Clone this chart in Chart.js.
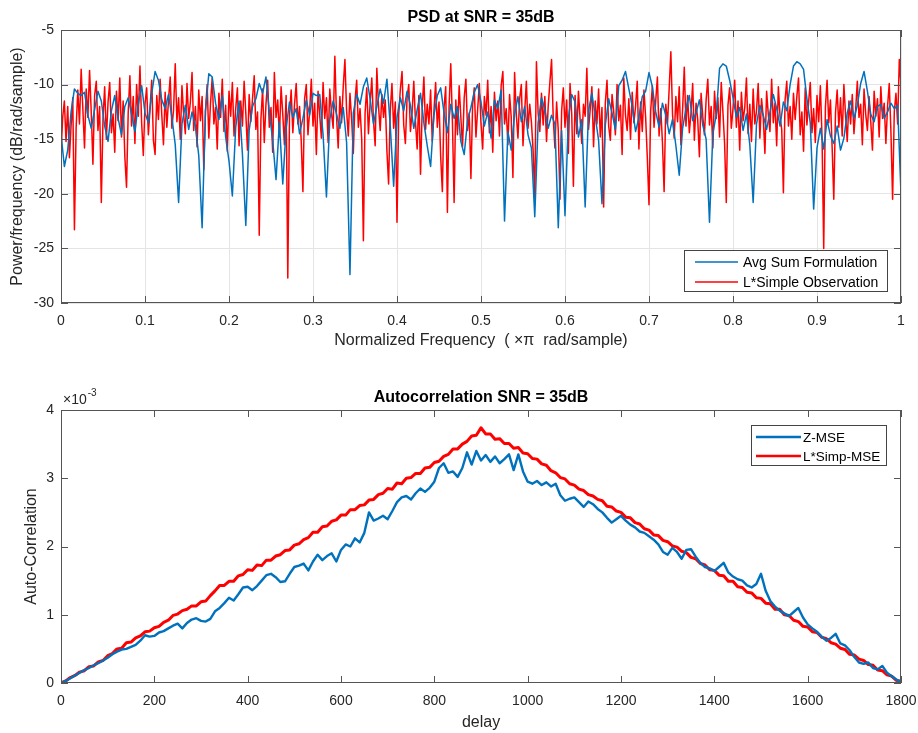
<!DOCTYPE html>
<html>
<head>
<meta charset="utf-8">
<script src="https://cdn.jsdelivr.net/npm/chart.js@4.4.1/dist/chart.umd.min.js"></script>
<style>
  body{margin:0;background:#fff;}
  #wrap{position:relative;width:918px;height:733px;}
  canvas{position:absolute;left:0;}
</style>
</head>
<body>
<div id="wrap">
  <canvas id="psdChart" width="918" height="366" style="top:0"></canvas>
  <canvas id="acChart" width="918" height="367" style="top:366px"></canvas>
</div>
<script>
// --- DATI PSD (dB/rad/sample) ---
// Avg Sum: griglia a passo 0.004, L*Simple: griglia a passo 0.002
const freqStepAvg = 0.004;
const freqStepSimple = 0.002;
const psdAvgSum = [
  -14.5,-17.5,-16.0,-12.5,-10.4,-10.8,-11.0,-10.7,-12.8,-14.0,
  -12.3,-10.6,-11.5,-13.8,-15.2,-12.4,-11.0,-13.1,-14.6,-12.0,
  -11.2,-12.7,-14.3,-11.8,-10.1,-12.6,-13.5,-10.8,-8.8,-9.6,
  -11.4,-12.2,-10.9,-13.0,-15.5,-20.8,-13.6,-11.9,-14.1,-12.5,
  -13.8,-16.5,-23.1,-12.4,-9.0,-9.3,-11.7,-13.2,-11.0,-14.8,
  -17.0,-20.2,-13.9,-11.5,-16.4,-22.9,-14.2,-12.0,-11.3,-9.9,
  -10.8,-9.3,-12.5,-15.1,-18.7,-13.4,-19.1,-14.0,-11.6,-13.0,
  -12.2,-14.5,-13.1,-11.4,-12.8,-10.8,-11.0,-10.9,-14.6,-20.3,
  -13.2,-11.5,-12.7,-14.0,-12.1,-15.3,-27.4,-12.6,-10.9,-11.8,
  -10.2,-9.4,-11.3,-13.6,-12.0,-10.4,-11.7,-9.5,-13.8,-19.3,
  -13.0,-11.2,-12.4,-10.6,-11.9,-14.0,-12.3,-10.8,-13.5,-15.6,
  -17.5,-12.8,-11.0,-10.3,-12.6,-14.4,-11.8,-13.1,-12.0,-15.2,
  -16.4,-13.3,-12.1,-10.7,-10.0,-11.6,-13.8,-12.5,-14.9,-11.4,
  -12.2,-10.5,-22.5,-14.3,-16.0,-12.7,-11.1,-13.4,-12.0,-14.6,
  -15.8,-22.1,-13.5,-11.2,-12.3,-14.0,-12.8,-13.6,-23.1,-14.2,
  -22.0,-13.1,-10.9,-11.6,-14.8,-13.2,-21.2,-12.4,-10.8,-12.9,
  -15.1,-20.9,-13.7,-11.3,-12.6,-14.1,-10.1,-9.6,-8.8,-10.4,
  -12.0,-14.3,-13.0,-11.1,-10.6,-8.9,-10.2,-12.5,-13.9,-11.7,
  -12.8,-14.5,-13.2,-15.6,-18.3,-14.0,-12.2,-11.0,-13.3,-12.6,
  -11.4,-13.7,-15.0,-22.6,-14.5,-12.8,-8.5,-8.1,-8.3,-9.6,
  -11.2,-13.0,-12.1,-14.2,-12.7,-15.5,-20.8,-13.6,-11.9,-12.8,
  -14.1,-12.5,-10.9,-12.2,-13.8,-11.6,-12.4,-10.0,-8.3,-7.9,
  -8.1,-8.6,-11.3,-13.5,-21.4,-15.8,-14.0,-15.9,-13.2,-14.7,
  -15.4,-13.8,-16.0,-14.9,-12.6,-11.5,-13.1,-11.9,-9.9,-8.8,
  -10.6,-12.7,-13.4,-12.0,-11.8,-13.1,-12.5,-11.7,-12.2,-11.9,
  -20.0
];
const psdSimple = [
  -16.3,-13.0,-11.5,-15.2,-12.0,-16.7,-13.8,-11.2,-23.3,-14.0,
  -10.5,-13.6,-8.6,-12.2,-15.8,-10.4,-13.0,-8.7,-12.5,-17.3,
  -11.0,-9.7,-14.2,-12.0,-20.8,-13.1,-10.2,-15.0,-11.6,-9.8,
  -14.4,-12.7,-16.2,-10.6,-13.3,-9.4,-14.8,-11.5,-16.6,-19.4,
  -12.6,-9.2,-13.8,-11.1,-15.4,-10.0,-12.9,-8.3,-13.5,-16.5,
  -11.8,-10.3,-14.6,-12.2,-9.6,-15.1,-16.4,-11.0,-13.2,-9.5,
  -12.8,-15.5,-10.7,-13.9,-11.4,-9.3,-14.0,-12.3,-8.1,-13.4,
  -11.2,-15.0,-10.1,-12.7,-14.5,-9.9,-13.1,-11.6,-8.9,-14.2,
  -12.0,-15.7,-10.5,-13.3,-11.1,-17.8,-12.4,-10.0,-14.9,-11.7,
  -9.4,-13.6,-12.1,-15.9,-10.8,-13.0,-9.5,-14.3,-11.9,-16.1,
  -10.6,-12.9,-9.8,-14.7,-12.2,-10.3,-15.6,-11.5,-13.8,-9.7,
  -12.6,-16.0,-10.9,-13.4,-11.3,-9.2,-14.1,-12.5,-23.8,-13.2,
  -10.4,-15.3,-11.8,-9.6,-13.9,-12.1,-16.2,-8.9,-13.0,-11.4,
  -14.8,-10.2,-12.7,-15.5,-11.0,-27.7,-12.9,-10.5,-14.4,-11.8,
  -9.9,-13.6,-12.0,-15.2,-19.8,-11.3,-10.0,-14.6,-12.4,-9.5,
  -13.8,-11.7,-16.4,-10.6,-12.8,-14.9,-9.8,-13.1,-11.2,-15.3,
  -10.4,-12.6,-14.0,-7.4,-12.9,-15.8,-11.1,-13.5,-10.2,-7.7,
  -12.4,-14.7,-10.8,-13.2,-16.3,-11.5,-9.6,-13.9,-12.2,-15.0,
  -24.3,-12.6,-10.3,-14.5,-11.7,-9.4,-13.3,-15.6,-8.5,-12.0,
  -14.2,-10.9,-13.0,-11.4,-16.1,-19.1,-12.3,-9.9,-14.0,-11.6,
  -22.6,-12.8,-10.4,-8.8,-13.7,-15.4,-11.2,-10.0,-14.3,-12.5,
  -9.7,-13.4,-15.9,-11.0,-18.2,-12.2,-9.3,-14.1,-11.8,-13.6,
  -10.5,-15.2,-12.4,-9.8,-13.9,-11.6,-16.6,-19.8,-12.1,-10.2,
  -21.7,-12.0,-8.1,-13.5,-20.8,-11.4,-14.6,-10.1,-13.0,-15.7,
  -11.2,-9.5,-14.2,-12.6,-18.6,-11.9,-10.3,-14.8,-12.3,-9.9,
  -13.6,-15.9,-11.1,-12.8,-9.6,-14.4,-12.0,-16.2,-10.7,-13.3,
  -11.5,-14.7,-10.1,-8.8,-13.6,-12.2,-15.5,-10.9,-13.0,-18.5,
  -8.9,-12.7,-14.9,-11.3,-10.0,-15.6,-12.5,-9.7,-14.0,-11.8,
  -13.4,-16.0,-20.4,-7.9,-12.6,-14.3,-10.8,-13.7,-11.1,-15.2,
  -12.0,-9.8,-7.7,-13.1,-15.8,-11.6,-14.2,-20.5,-12.4,-10.3,
  -13.9,-11.4,-16.3,-9.9,-12.7,-19.3,-11.0,-14.5,-10.6,-13.2,
  -15.4,-11.8,-12.9,-8.5,-14.1,-12.3,-10.2,-15.7,-11.5,-13.6,
  -10.4,-14.8,-12.1,-21.2,-11.7,-9.6,-13.8,-15.1,-10.9,-12.5,
  -14.6,-10.0,-13.3,-11.9,-16.4,-9.4,-12.8,-14.2,-11.3,-15.0,
  -10.7,-13.5,-12.0,-9.7,-15.9,-11.6,-14.3,-10.5,-13.0,-16.7,
  -21.0,-12.4,-10.1,-13.9,-11.5,-9.3,-14.7,-12.2,-15.3,-19.8,
  -11.8,-13.6,-10.4,-7.0,-12.7,-14.9,-11.1,-13.4,-10.2,-15.5,
  -12.3,-8.4,-13.8,-11.0,-14.4,-12.6,-9.9,-15.1,-11.7,-13.2,
  -16.6,-10.8,-12.9,-14.6,-11.4,-9.5,-13.7,-12.0,-15.8,-10.6,
  -13.1,-11.2,-14.8,-9.8,-12.5,-15.4,-20.8,-11.9,-10.3,-14.0,
  -12.2,-9.6,-13.9,-11.5,-16.0,-10.7,-13.3,-12.1,-9.4,-14.5,
  -11.8,-15.2,-10.4,-13.6,-12.4,-9.9,-14.9,-11.3,-13.0,-16.3,
  -10.6,-12.7,-14.3,-9.5,-13.5,-11.7,-15.6,-10.2,-12.9,-14.1,
  -19.9,-11.4,-9.7,-13.8,-12.0,-15.0,-10.8,-13.2,-11.1,-9.4,
  -14.6,-12.5,-16.1,-10.3,-13.7,-11.6,-9.8,-14.4,-12.2,-15.3,
  -11.0,-13.4,-10.1,-14.8,-25.0,-12.1,-9.6,-13.5,-11.4,-15.7,
  -20.5,-12.6,-10.5,-13.9,-11.2,-14.7,-10.0,-12.8,-15.2,-11.5,
  -13.6,-10.9,-14.5,-12.3,-9.7,-13.0,-11.8,-15.5,-10.4,-12.7,
  -14.2,-11.1,-13.4,-16.0,-10.6,-12.9,-11.3,-14.8,-10.2,-13.1,
  -11.7,-15.4,-12.0,-9.9,-14.3,-20.5,-12.5,-10.8,-13.6,-7.7,
  -10.0
];
const psdTicksX = [0,0.1,0.2,0.3,0.4,0.5,0.6,0.7,0.8,0.9,1];
const psdTicksY = [-30,-25,-20,-15,-10,-5];

// --- DATI AUTOCORRELAZIONE (x 1e-3), ritardo a passo 10 ---
const delayStep = 10;
const acZmse = [
  0.00,0.03,0.07,0.11,0.15,0.19,0.22,0.26,0.29,0.33,
  0.37,0.42,0.46,0.49,0.50,0.53,0.56,0.62,0.70,0.68,
  0.69,0.74,0.76,0.80,0.84,0.87,0.80,0.88,0.93,0.95,
  0.91,0.90,0.94,1.05,1.10,1.17,1.25,1.21,1.30,1.40,
  1.41,1.36,1.42,1.50,1.58,1.60,1.55,1.48,1.49,1.60,
  1.70,1.72,1.75,1.65,1.78,1.88,1.80,1.86,1.90,1.78,
  1.95,2.03,2.00,2.12,2.06,2.20,2.50,2.38,2.41,2.45,
  2.40,2.52,2.65,2.72,2.74,2.69,2.78,2.85,2.80,2.86,
  2.95,3.15,3.22,3.08,3.10,3.02,3.15,3.38,3.20,3.40,
  3.26,3.34,3.24,3.32,3.22,3.28,3.35,3.12,3.35,3.10,
  2.95,2.92,2.96,2.90,2.94,2.88,2.92,2.75,2.67,2.70,
  2.72,2.65,2.58,2.66,2.62,2.55,2.50,2.42,2.35,2.40,
  2.45,2.38,2.32,2.28,2.22,2.20,2.15,2.10,2.03,1.92,
  1.88,1.98,1.92,1.82,1.95,1.96,1.85,1.76,1.70,1.68,
  1.64,1.70,1.76,1.62,1.56,1.52,1.50,1.43,1.40,1.45,
  1.60,1.35,1.20,1.12,1.06,1.02,0.98,1.04,1.10,0.96,
  0.86,0.80,0.75,0.68,0.62,0.66,0.72,0.58,0.55,0.48,
  0.38,0.30,0.28,0.30,0.22,0.20,0.25,0.15,0.10,0.05,
  0.02
];
const acSimp = [
  0.00,0.03,0.08,0.11,0.16,0.18,0.24,0.25,0.31,0.33,
  0.40,0.43,0.50,0.51,0.59,0.60,0.66,0.69,0.75,0.76,
  0.81,0.83,0.89,0.92,0.99,1.01,1.06,1.08,1.13,1.13,
  1.19,1.20,1.28,1.35,1.43,1.43,1.49,1.49,1.57,1.59,
  1.66,1.65,1.73,1.72,1.80,1.80,1.86,1.88,1.94,1.95,
  2.02,2.04,2.10,2.13,2.21,2.21,2.29,2.30,2.37,2.39,
  2.46,2.46,2.54,2.54,2.60,2.61,2.68,2.69,2.76,2.78,
  2.85,2.84,2.93,2.92,3.00,3.01,3.07,3.07,3.15,3.16,
  3.23,3.25,3.32,3.35,3.43,3.43,3.50,3.54,3.62,3.63,
  3.74,3.65,3.65,3.57,3.58,3.51,3.51,3.44,3.45,3.37,
  3.36,3.29,3.28,3.21,3.19,3.11,3.08,3.01,2.99,2.92,
  2.90,2.84,2.82,2.76,2.74,2.69,2.67,2.59,2.58,2.52,
  2.50,2.43,2.42,2.35,2.33,2.26,2.24,2.17,2.16,2.09,
  2.07,2.01,1.99,1.93,1.91,1.84,1.82,1.75,1.73,1.66,
  1.65,1.58,1.57,1.49,1.49,1.41,1.40,1.33,1.32,1.25,
  1.24,1.17,1.16,1.08,1.08,1.00,0.99,0.92,0.90,0.83,
  0.82,0.75,0.74,0.67,0.65,0.59,0.57,0.51,0.49,0.42,
  0.41,0.35,0.33,0.27,0.26,0.19,0.18,0.12,0.10,0.04,
  0.02
];
const acTicksX = [0,200,400,600,800,1000,1200,1400,1600,1800];
const acTicksY = [0,1,2,3,4];

// --- STILE MATLAB ---
const FONT = '"Liberation Sans", Arial, Helvetica, sans-serif';
const BLUE = '#0072BD';
const RED = '#FF0000';
const AXIS_COL = '#555555';
const TXT = '#262626';

const toXY = (vals, step) => vals.map((v,i)=>({x: +(i*step).toFixed(4), y: v}));

// --- PLUGIN: riquadro, tacche interne, testi, legenda ---
const matlabAxes = {
  id:'matlabAxes',
  afterDatasetsDraw(chart, args, o){
    const {ctx, chartArea:a, scales} = chart;
    ctx.save();
    ctx.strokeStyle = AXIS_COL; ctx.lineWidth = 1;
    const line = (x1,y1,x2,y2)=>{ ctx.beginPath(); ctx.moveTo(x1,y1); ctx.lineTo(x2,y2); ctx.stroke(); };
    const tl = 7;
    scales.x.ticks.forEach(t=>{
      const px = Math.round(scales.x.getPixelForValue(t.value)) + 0.5;
      line(px, a.bottom, px, a.bottom - tl);
      line(px, a.top, px, a.top + tl);
    });
    scales.y.ticks.forEach(t=>{
      const py = Math.round(scales.y.getPixelForValue(t.value)) + 0.5;
      line(a.left, py, a.left + tl, py);
      line(a.right, py, a.right - tl, py);
    });
    ctx.strokeRect(a.left + 0.5, a.top + 0.5, a.right - a.left - 1, a.bottom - a.top - 1);

    // legenda
    const lg = o.legend;
    const bx = a.right - lg.right - lg.w, by = lg.top != null ? a.top + lg.top : a.bottom - lg.bottom - lg.h;
    ctx.fillStyle = '#fff';
    ctx.fillRect(bx, by, lg.w, lg.h);
    ctx.strokeStyle = '#444'; ctx.lineWidth = 1;
    ctx.strokeRect(bx + 0.5, by + 0.5, lg.w, lg.h);
    ctx.font = lg.font + 'px ' + FONT;
    ctx.textBaseline = 'middle'; ctx.textAlign = 'left';
    chart.data.datasets.forEach((ds,i)=>{
      const y = by + lg.row0 + i*lg.rowGap;
      ctx.strokeStyle = ds.borderColor; ctx.lineWidth = lg.lw;
      line(bx + lg.lineX, y, bx + lg.lineX + lg.lineLen, y);
      ctx.fillStyle = '#000';
      ctx.fillText(ds.label, bx + lg.textX, y + 1);
    });
    ctx.restore();
  },
  afterDraw(chart, args, o){
    const {ctx, chartArea:a} = chart;
    const cx = (a.left + a.right)/2, cy = (a.top + a.bottom)/2;
    ctx.save();
    ctx.textAlign = 'center'; ctx.textBaseline = 'middle';
    ctx.fillStyle = '#000';
    ctx.font = 'bold 16px ' + FONT;
    ctx.fillText(o.title, cx, a.top - 12.5);
    ctx.fillStyle = TXT;
    ctx.font = '16px ' + FONT;
    ctx.fillText(o.xLabel, cx, a.bottom + o.xLabelGap);
    ctx.translate(o.yLabelX, cy);
    ctx.rotate(-Math.PI/2);
    ctx.fillText(o.yLabel, 0, 0);
    ctx.restore();
    if(o.exponent){
      ctx.save();
      ctx.fillStyle = TXT; ctx.textBaseline = 'middle'; ctx.textAlign = 'left';
      ctx.font = '14px ' + FONT;
      ctx.fillText('\u00d710', a.left + 2, a.top - 10);
      const w = ctx.measureText('\u00d710').width;
      ctx.font = '10px ' + FONT;
      ctx.fillText('-3', a.left + 3 + w, a.top - 17);
      ctx.restore();
    }
  }
};

function baseScales(xMin, xMax, xTicks, yMin, yMax, yTicks, xH, grid, fmt){
  const tickFont = {family: FONT, size: 14};
  return {
    x:{
      type:'linear', min:xMin, max:xMax,
      afterBuildTicks: s=>{ s.ticks = xTicks.map(v=>({value:v})); },
      // altezza fissa e niente margini extra per le etichette agli estremi
      afterFit: s=>{ s.height = xH; s.paddingLeft = 0; s.paddingRight = 0; },
      border:{display:false},
      grid:{display:grid, color:'#e4e4e4', drawTicks:false},
      ticks:{font:tickFont, color:TXT, padding:10, maxRotation:0, callback:fmt}
    },
    y:{
      min:yMin, max:yMax,
      afterBuildTicks: s=>{ s.ticks = yTicks.map(v=>({value:v})); },
      afterFit: s=>{ s.width = 61; },
      border:{display:false},
      grid:{display:grid, color:'#e4e4e4', drawTicks:false},
      ticks:{font:tickFont, color:TXT, padding:7}
    }
  };
}

// --- GRAFICO PSD ---
new Chart(document.getElementById('psdChart'), {
  type:'line',
  data:{datasets:[
    {label:'Avg Sum Formulation', data:toXY(psdAvgSum, freqStepAvg), borderColor:BLUE, borderWidth:1.5},
    {label:'L*Simple Observation', data:toXY(psdSimple, freqStepSimple), borderColor:RED, borderWidth:1.5}
  ]},
  options:{
    responsive:false, animation:false, devicePixelRatio:1,
    parsing:false, normalized:true,
    elements:{point:{radius:0}, line:{tension:0, borderJoinStyle:'round'}},
    layout:{padding:{top:30, right:17, left:0, bottom:0}},
    scales: baseScales(0, 1, psdTicksX, -30, -5, psdTicksY, 63, true, v=>String(+v.toFixed(1))),
    plugins:{
      legend:{display:false}, tooltip:{enabled:false},
      matlabAxes:{
        title:'PSD at SNR = 35dB',
        xLabel:'Normalized Frequency  ( \u00d7\u03c0  rad/sample)', xLabelGap:38,
        yLabel:'Power/frequency (dB/rad/sample)', yLabelX:18,
        legend:{w:203, h:41, right:14, bottom:12, row0:12, rowGap:20, lineX:11, lineLen:43, textX:59, lw:1.5, font:14}
      }
    }
  },
  plugins:[matlabAxes]
});

// --- GRAFICO AUTOCORRELAZIONE ---
new Chart(document.getElementById('acChart'), {
  type:'line',
  data:{datasets:[
    {label:'Z-MSE', data:toXY(acZmse, delayStep), borderColor:BLUE, borderWidth:2.4},
    {label:'L*Simp-MSE', data:toXY(acSimp, delayStep), borderColor:RED, borderWidth:3}
  ]},
  options:{
    responsive:false, animation:false, devicePixelRatio:1,
    parsing:false, normalized:true,
    elements:{point:{radius:0}, line:{tension:0, borderJoinStyle:'round'}},
    layout:{padding:{top:44, right:17, left:0, bottom:0}},
    scales: baseScales(0, 1800, acTicksX, 0, 4, acTicksY, 50, false, v=>String(v)),
    plugins:{
      legend:{display:false}, tooltip:{enabled:false},
      matlabAxes:{
        title:'Autocorrelation SNR = 35dB',
        xLabel:'delay', xLabelGap:40,
        yLabel:'Auto-Correlation', yLabelX:32, exponent:true,
        legend:{w:135, h:40, top:15, right:15, row0:12, rowGap:19, lineX:5, lineLen:45, textX:52, lw:2.4, font:13.5}
      }
    }
  },
  plugins:[matlabAxes]
});
</script>
</body>
</html>
